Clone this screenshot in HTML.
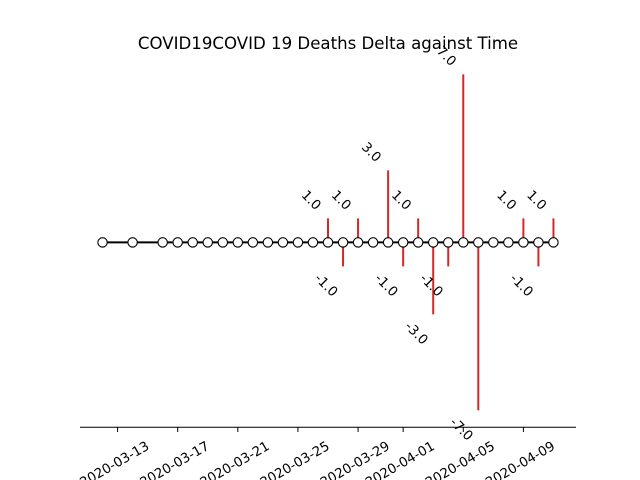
<!DOCTYPE html>
<html><head><meta charset="utf-8"><style>
html,body{margin:0;padding:0;background:#fff;}
svg{display:block;font-family:"DejaVu Sans","Liberation Sans",sans-serif;}
</style></head><body>
<svg id="chart" width="640" height="480" viewBox="0 0 640 480">
<rect width="640" height="480" fill="#fff"/>
<text x="328" y="49" text-anchor="middle" font-size="16.6" fill="#000">COVID19COVID 19 Deaths Delta against Time</text>
<line x1="80" y1="427.2" x2="576" y2="427.2" stroke="#000" stroke-width="1"/>
<g id="ticks"></g><g id="stems"></g><g id="line"></g><g id="labels"></g>
</svg>
<script>
const dates = ["2020-03-12","2020-03-14","2020-03-16","2020-03-17","2020-03-18","2020-03-19","2020-03-20","2020-03-21","2020-03-22","2020-03-23","2020-03-24","2020-03-25","2020-03-26","2020-03-27","2020-03-28","2020-03-29","2020-03-30","2020-03-31","2020-04-01","2020-04-02","2020-04-03","2020-04-04","2020-04-05","2020-04-06","2020-04-07","2020-04-08","2020-04-09","2020-04-10","2020-04-11"];
const deltas = [0,0,0,0,0,0,0,0,0,0,0,0,0,1,-1,1,0,3,-1,1,-3,-1,7,-7,0,0,1,-1,1];
const tickLabels = ["2020-03-13","2020-03-17","2020-03-21","2020-03-25","2020-03-29","2020-04-01","2020-04-05","2020-04-09"];
const NS="http://www.w3.org/2000/svg";
const day=d=>Date.UTC(+d.slice(0,4),+d.slice(5,7)-1,+d.slice(8,10))/86400000;
const d0=day(dates[0]), d1=day(dates[dates.length-1]), span=d1-d0;
const xmin=d0-span*0.05, xmax=d1+span*0.05;
const X=d=>80+(day(d)-xmin)/(xmax-xmin)*496;
const ymax=Math.max(...deltas.map(Math.abs))*1.1;
const Y=v=>57.6+(ymax-v)/(2*ymax)*369.6;
function mk(t,a,p){const e=document.createElementNS(NS,t);for(const k in a)e.setAttribute(k,a[k]);p.appendChild(e);return e;}
const tg=document.getElementById('ticks');
tickLabels.forEach(t=>{const x=X(t);
 const l=mk('line',{x1:x,y1:427.2,x2:x,y2:432,stroke:'#000'},tg);
 
 
 const tx=mk('text',{x:0,y:0,'font-size':13.3,'text-anchor':'middle',transform:`translate(${x-1},${468}) rotate(-30)`},tg);
 tx.textContent=t;
 
 
});
const sg=document.getElementById('stems'), lb=document.getElementById('labels');
dates.forEach((d,i)=>{const v=deltas[i]; if(!v) return; const x=X(d);
 const s=mk('line',{x1:x,y1:Y(0),x2:x,y2:Y(v),stroke:'#d62728','stroke-width':2},sg);
 
 
 const off=v>0?-18:19;
 const t=mk('text',{x:0,y:0,'font-size':13.3,'text-anchor':'middle','dominant-baseline':'middle',transform:`translate(${x-17},${Y(v)+off}) rotate(45)`},lb);
 t.textContent=v.toFixed(1);
 
 
});
const lg=document.getElementById('line');
const pl=mk('polyline',{points:dates.map(d=>X(d)+','+Y(0)).join(' '),fill:'none',stroke:'#000','stroke-width':2},lg);


dates.forEach(d=>{const c=mk('circle',{cx:X(d),cy:Y(0),r:4.7,fill:'#fff',stroke:'#000','stroke-width':1.1},lg);
 
 
});
</script>
</body></html>
